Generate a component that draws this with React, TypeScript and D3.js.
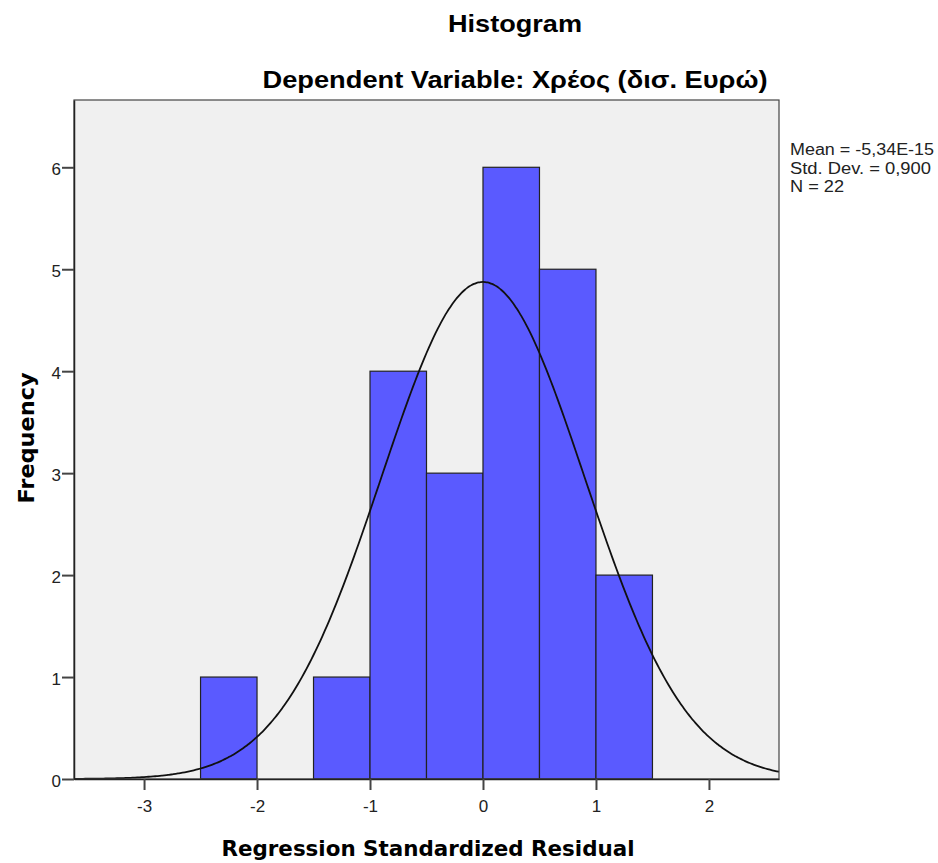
import React, { useEffect, useRef } from 'react';
import * as d3 from 'd3';

const binStarts = [-2.5, -2.0, -1.5, -1.0, -0.5, 0.0, 0.5, 1.0];
const binCounts = [1, 0, 1, 4, 3, 6, 5, 2];
const binWidth = 0.5;
const xTicks = [-3, -2, -1, 0, 1, 2];
const yTicks = [0, 1, 2, 3, 4, 5, 6];
const statLines = ['Mean = -5,34E-15', 'Std. Dev. = 0,900', 'N = 22'];
const statWidths = [144, 141, 54];
const mean = -5.34e-15;
const stdDev = 0.9;
const n = 22;

const App = () => {
    const ref = useRef<SVGSVGElement>(null);

    useEffect(() => {
        if (!ref.current) return;
        const svg = d3.select(ref.current);
        svg.selectAll('*').remove();
        const font = '"Liberation Sans", Arial, sans-serif';
        const wide = '"DejaVu Sans", Verdana, sans-serif';
        const left = 74, right = 779, top = 100, bottom = 779;

        const x = d3.scaleLinear().domain([-3.62, 2.62]).range([left, right]);
        const y = d3.scaleLinear().domain([0, 6.66]).range([bottom, top]);

        svg.append('rect')
            .attr('x', left).attr('y', top)
            .attr('width', right - left).attr('height', bottom - top)
            .attr('fill', '#f0f0f0');

        const bars = binStarts.map((s, i) => ({ s, c: binCounts[i] })).filter(d => d.c > 0);
        svg.append('g').selectAll('rect').data(bars).enter().append('rect')
            .attr('x', d => x(d.s))
            .attr('y', d => y(d.c))
            .attr('width', d => x(d.s + binWidth) - x(d.s))
            .attr('height', d => y(0) - y(d.c))
            .attr('fill', '#5a5aff')
            .attr('stroke', '#222')
            .attr('stroke-width', 1.2);

        // fitted normal curve
        const xs = d3.range(-3.62, 2.621, 0.02);
        const pdf = (v: number) => n * binWidth * Math.exp(-0.5 * ((v - mean) / stdDev) ** 2) / (stdDev * Math.sqrt(2 * Math.PI));
        const line = d3.line<number>().x(d => x(d)).y(d => y(pdf(d))).curve(d3.curveBasis);
        svg.append('path')
            .datum(xs)
            .attr('fill', 'none')
            .attr('stroke', '#111')
            .attr('stroke-width', 1.8)
            .attr('d', line);

        svg.append('rect')
            .attr('x', left).attr('y', top)
            .attr('width', right - left).attr('height', bottom - top)
            .attr('fill', 'none')
            .attr('stroke', '#444')
            .attr('stroke-width', 1.2);

        const fmt = (d: any) => String(d);
        const xAxis = svg.append('g')
            .attr('transform', `translate(0,${bottom})`)
            .call(d3.axisBottom(x).tickValues(xTicks).tickSize(11).tickSizeOuter(0).tickFormat(fmt));
        xAxis.select('.domain').attr('stroke', '#222').attr('stroke-width', 1.5);
        xAxis.selectAll('.tick line').attr('stroke', '#444').attr('stroke-width', 2);
        xAxis.selectAll('.tick text').attr('font-family', font).attr('font-size', 17).attr('fill', '#222')
            .attr('y', 21).attr('dy', '0.71em');

        const yAxis = svg.append('g')
            .attr('transform', `translate(${left},0)`)
            .call(d3.axisLeft(y).tickValues(yTicks).tickSize(12).tickSizeOuter(0).tickFormat(fmt));
        yAxis.select('.domain').attr('stroke', '#222').attr('stroke-width', 1.5);
        yAxis.selectAll('.tick line').attr('stroke', '#444').attr('stroke-width', 2);
        yAxis.selectAll('.tick text').attr('font-family', font).attr('font-size', 17).attr('fill', '#222')
            .attr('x', -13).attr('dy', '0.45em');

        svg.append('text')
            .attr('x', 515).attr('y', 32)
            .attr('text-anchor', 'middle')
            .attr('font-family', font).attr('font-size', 24).attr('font-weight', 'bold')
            .attr('textLength', 134).attr('lengthAdjust', 'spacingAndGlyphs')
            .text('Histogram');
        svg.append('text')
            .attr('x', 515).attr('y', 88)
            .attr('text-anchor', 'middle')
            .attr('font-family', font).attr('font-size', 24).attr('font-weight', 'bold')
            .attr('textLength', 505).attr('lengthAdjust', 'spacingAndGlyphs')
            .text('Dependent Variable: Χρέος (δισ. Ευρώ)');

        svg.append('text')
            .attr('x', 428).attr('y', 856)
            .attr('text-anchor', 'middle')
            .attr('font-family', wide).attr('font-size', 21).attr('font-weight', 'bold')
            .attr('textLength', 413).attr('lengthAdjust', 'spacingAndGlyphs')
            .text('Regression Standardized Residual');
        svg.append('text')
            .attr('transform', `translate(34,438) rotate(-90)`)
            .attr('text-anchor', 'middle')
            .attr('font-family', wide).attr('font-size', 21).attr('font-weight', 'bold')
            .attr('textLength', 131).attr('lengthAdjust', 'spacingAndGlyphs')
            .text('Frequency');

        svg.append('g').selectAll('text').data(statLines).enter().append('text')
            .attr('x', 790)
            .attr('y', (d, i) => 155 + i * 18.5)
            .attr('font-family', font).attr('font-size', 16).attr('fill', '#222')
            .attr('textLength', (d, i) => statWidths[i]).attr('lengthAdjust', 'spacingAndGlyphs')
            .text(d => d);
    }, []);

    return (
        <svg ref={ref} width={938} height={863}
            style={{ position: 'absolute', left: 0, top: 0, background: '#fff' }} />
    );
};

export default App;
